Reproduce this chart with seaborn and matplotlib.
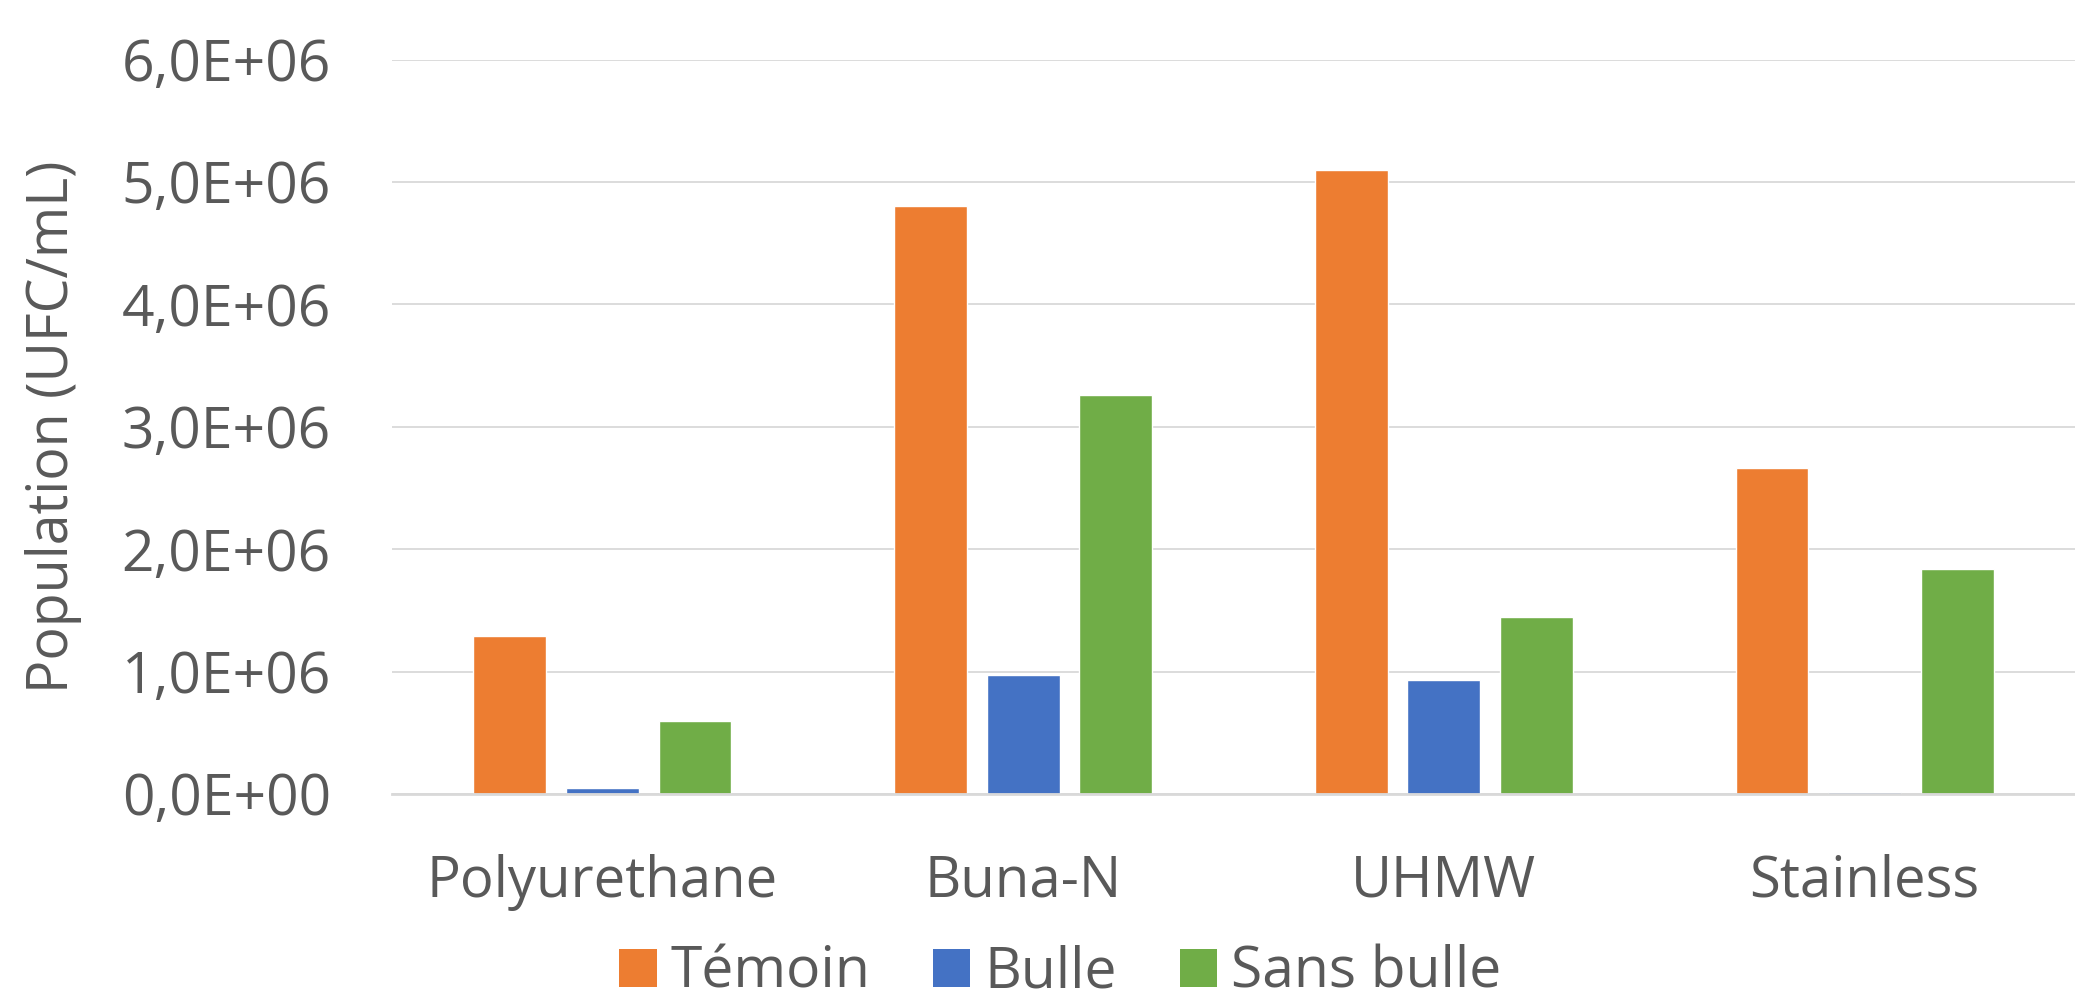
import matplotlib
matplotlib.use("Agg")
import matplotlib.pyplot as plt
import seaborn as sns
import pandas as pd
from matplotlib.ticker import FuncFormatter, MultipleLocator
from matplotlib.patches import Patch

categories = ["Polyurethane", "Buna-N", "UHMW", "Stainless"]
series = ["Témoin", "Bulle", "Sans bulle"]
temoin = [1.29e6, 4.80e6, 5.10e6, 2.66e6]
bulle = [4.5e4, 9.75e5, 9.35e5, 1.5e4]
sans_bulle = [5.95e5, 3.26e6, 1.45e6, 1.84e6]
colors = ["#ED7D31", "#4472C4", "#70AD47"]
ylabel = "Population (UFC/mL)"

rows = []
for name, vals in zip(series, [temoin, bulle, sans_bulle]):
    for c, v in zip(categories, vals):
        rows.append({"Matériau": c, "Série": name, "Population": v})
df = pd.DataFrame(rows)

sns.set_theme(style="white")
plt.rcParams["font.family"] = ["Open Sans", "DejaVu Sans"]
text_color = "#595959"

W, H = 2075, 999
fig = plt.figure(figsize=(W / 100, H / 100), dpi=100)
ax = fig.add_axes([392 / W, 1 - 794 / H, (2075 - 392) / W, (794 - 59.6) / H])

sns.barplot(data=df, x="Matériau", y="Population", hue="Série",
            order=categories, hue_order=series, palette=colors,
            width=0.66, gap=0.214, ax=ax, legend=False,
            edgecolor="white", linewidth=1.0, saturation=1)

ax.set_xlim(-0.5, len(categories) - 0.5)
ax.set_ylim(0, 6e6)
ax.yaxis.set_major_locator(MultipleLocator(1e6))
ax.yaxis.set_major_formatter(FuncFormatter(lambda v, p: f"{v:.1E}".replace(".", ",")))
ax.grid(axis="y", color="#D9D9D9", linewidth=1.3)
ax.set_axisbelow(True)
for s in ["top", "right", "left"]:
    ax.spines[s].set_visible(False)
ax.spines["bottom"].set_color("#D9D9D9")
ax.spines["bottom"].set_linewidth(2.0)

ax.tick_params(axis="y", labelsize=41, colors=text_color, length=0, pad=44)
ax.tick_params(axis="x", labelsize=40.5, colors=text_color, length=0, pad=43)
ax.set_xlabel("")
ax.set_ylabel(ylabel, fontsize=40, color=text_color)
ax.yaxis.set_label_coords(-0.184, 0.5)

handles = [Patch(facecolor=c, edgecolor="none") for c in colors]
fig.legend(handles, series, loc="center", bbox_to_anchor=(0.511, 0.026),
           ncol=3, frameon=False, fontsize=41, labelcolor=text_color,
           handlelength=0.65, handleheight=0.65, handletextpad=0.25,
           columnspacing=1.1)

fig.savefig("out.png", dpi=100)
